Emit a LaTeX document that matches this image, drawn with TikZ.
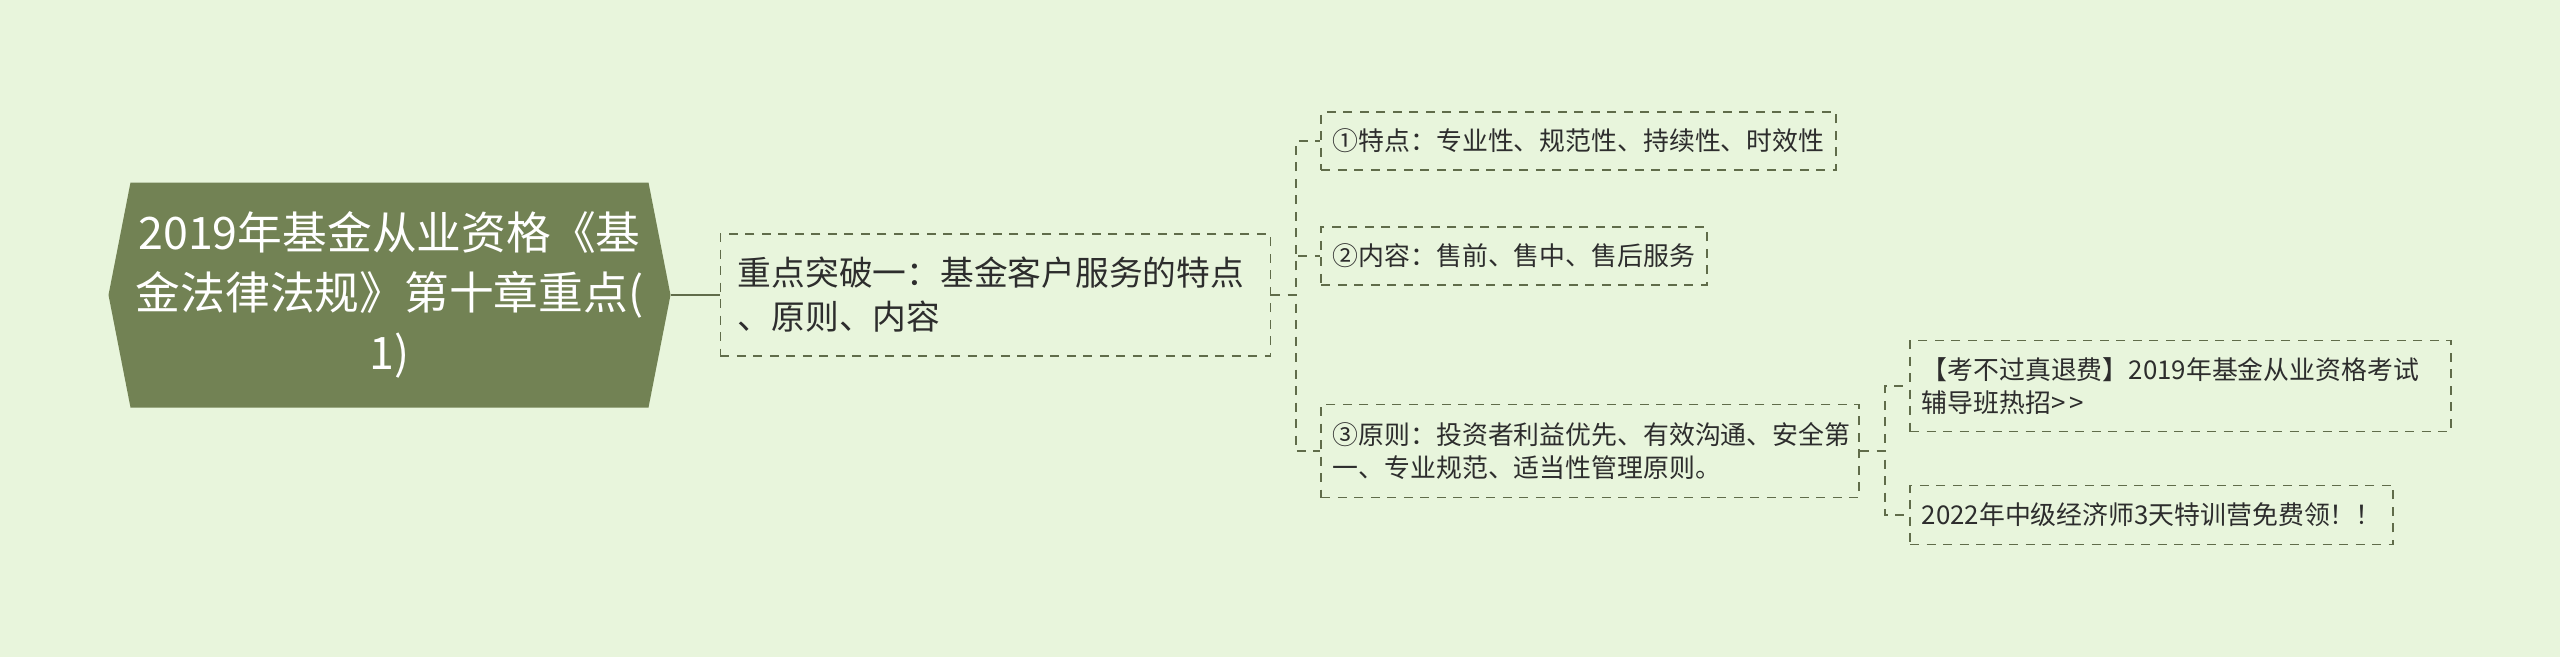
\documentclass[tikz,border=0pt]{standalone}
\usepackage{fontspec}
\setmainfont{Noto Sans CJK SC}
\usetikzlibrary{positioning,backgrounds}
\definecolor{bgcol}{RGB}{232,245,220}
\definecolor{rootfill}{RGB}{114,130,84}
\definecolor{linecol}{RGB}{96,108,74}
\definecolor{txtcol}{RGB}{45,45,45}

\begin{document}
\begin{tikzpicture}[
    node distance=19.6pt,
    rt/.style={minimum width=224.4pt,minimum height=89.6pt,inner sep=0pt,align=center,
      text=white,font=\fontsize{17.9}{24}\selectfont},
    dbox/.style={draw=linecol,dash pattern=on 3.6pt off 3pt,line width=0.75pt,text=txtcol,align=left},
    br/.style={dbox,inner xsep=7pt,minimum height=48.8pt,font=\fontsize{13.5}{17.6}\selectfont},
    lf/.style={dbox,inner xsep=4.6pt,minimum height=23pt,font=\fontsize{10.35}{13.2}\selectfont},
    link/.style={draw=linecol,line width=0.75pt,dash pattern=on 3.6pt off 3pt},
  ]
  \useasboundingbox (0,0) rectangle (1024pt,-262.8pt);

  \node[rt] (root) at (155.8pt,-118pt) {2019年基金从业资格《基\\金法律法规》第十章重点(\\1)};
  \node[br, right=of root, text width=206pt] (k1) {重点突破一：基金客户服务的特点\\、原则、内容};

  \node[lf, right=of k1, yshift=61.6pt] (c1) {①特点：专业性、规范性、持续性、时效性};
  \node[lf, right=of k1, yshift=15.6pt] (c2) {②内容：售前、售中、售后服务};
  \node[lf, right=of k1, yshift=-62.4pt, minimum height=37.2pt, text width=206pt] (c3) {③原则：投资者利益优先、有效沟通、安全第\\一、专业规范、适当性管理原则。};

  \node[lf, right=of c3, yshift=26pt, minimum height=36.4pt, text width=207pt] (g1) {【考不过真退费】2019年基金从业资格考试\\辅导班热招>\kern1.5pt>};
  \node[lf, right=of c3, yshift=-25.6pt, minimum height=23.6pt] (g2) {2022年中级经济师3天特训营免费领！！};

  % background and hexagon behind the root
  \begin{scope}[on background layer]
    \fill[bgcol] (0,0) rectangle (1024pt,-262.8pt);
    \fill[rootfill] (root.west) -- ([xshift=8.8pt]root.north west) -- ([xshift=-8.8pt]root.north east)
      -- (root.east) -- ([xshift=-8.8pt]root.south east) -- ([xshift=8.8pt]root.south west) -- cycle;
  \end{scope}

  \draw[linecol,line width=0.9pt] (root.east) -- (k1.west);
  \foreach \c in {c1,c2,c3}
    \draw[link] (k1.east) -- ++(9.8pt,0) |- (\c.west);
  \foreach \g in {g1,g2}
    \draw[link] (c3.east) -- ++(9.8pt,0) |- (\g.west);
\end{tikzpicture}
\end{document}
